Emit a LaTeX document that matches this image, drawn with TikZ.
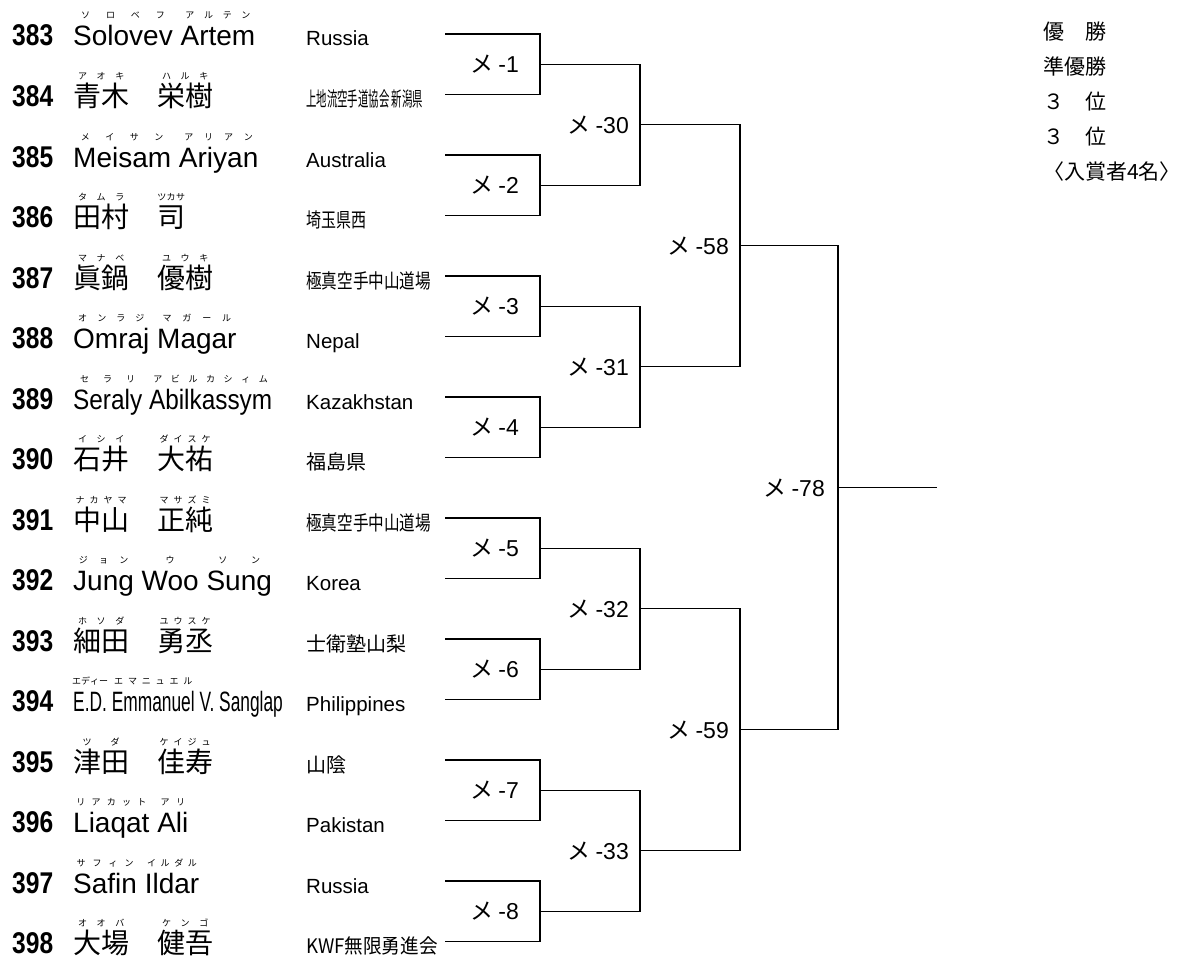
\documentclass[tikz,border=0pt]{standalone}
\usepackage{fontspec}
\setmainfont{Liberation Sans}
\newfontfamily\jp{Noto Sans CJK JP}
\newfontfamily\numfont{Liberation Sans}[FakeStretch=0.82]
\newfontfamily\narrowfont{Liberation Sans}[FakeStretch=0.87]
\newfontfamily\condfont{Liberation Sans}[FakeStretch=0.62]
\usetikzlibrary{positioning}

\newcommand\furi{\jp\fontsize{9}{10}\selectfont}
\newcommand\jc{\jp\fontsize{20}{22}\selectfont}
\newcommand\me{{\jp メ}\kern5pt}
\makeatletter
% ruby: kana spread over the word
\newcommand\rb[2]{\setbox0\hbox{#1}%
  \hbox{\rlap{\raisebox{27pt}{\hbox to \wd0{\furi\hss\rb@a#2\@nil\hss}}}\box0}}
\def\rb@a#1#2\@nil{#1\ifx\relax#2\relax\else\hfil\hfil\rb@a#2\@nil\fi}
\makeatother

\begin{document}
\begin{tikzpicture}[x=1pt, y=-1pt,
	pnum/.style = {anchor = base west, inner sep = 0pt, font = \numfont\bfseries\fontsize{30}{32}\selectfont},
	pname/.style = {anchor = base west, inner sep = 0pt, font = \fontsize{28}{30}\selectfont},
	pclub/.style = {anchor = base west, inner sep = 0pt, font = \fontsize{20.5}{22}\selectfont},
	mlabel/.style = {inner sep = 0pt, font = \fontsize{23}{25}\selectfont},
	bline/.style = {line width = 1.4pt}]
	
	\useasboundingbox (0,0) rectangle (1197,958);
	
	% players
	\node[pnum] (n383) at (12,46) {383};
	\node[pname] (p383) at (73,46) {\rb{Solovev}{ソロベフ} \rb{Artem}{アルテン}};
	\node[pclub] (c383) at (306,46) {Russia};
	\coordinate (e383) at (445,34);
	
	\node[pnum] (n384) at (12,106.5) {384};
	\node[pname] (p384) at (73,106.5) {\jp\makebox[84pt][l]{\rb{青木}{アオキ}}\rb{栄樹}{ハルキ}};
	\node[pclub] (c384) at (306,106.5) {\jc\scalebox{0.52}[1]{上地流空手道協会 新潟県}};
	\coordinate (e384) at (445,94.5);
	
	\node[pnum] (n385) at (12,167) {385};
	\node[pname] (p385) at (73,167) {\rb{Meisam}{メイサン} \rb{Ariyan}{アリアン}};
	\node[pclub] (c385) at (306,167) {Australia};
	\coordinate (e385) at (445,155);
	
	\node[pnum] (n386) at (12,227.5) {386};
	\node[pname] (p386) at (73,227.5) {\jp\makebox[84pt][l]{\rb{田村}{タムラ}}\rb{司}{ツカサ}};
	\node[pclub] (c386) at (306,227.5) {\jc\scalebox{0.75}[1]{埼玉県西}};
	\coordinate (e386) at (445,215.5);
	
	\node[pnum] (n387) at (12,288) {387};
	\node[pname] (p387) at (73,288) {\jp\makebox[84pt][l]{\rb{眞鍋}{マナベ}}\rb{優樹}{ユウキ}};
	\node[pclub] (c387) at (306,288) {\jc\scalebox{0.78}[1]{極真空手中山道場}};
	\coordinate (e387) at (445,276);
	
	\node[pnum] (n388) at (12,348.5) {388};
	\node[pname] (p388) at (73,348.5) {\rb{Omraj}{オンラジ} \rb{Magar}{マガール}};
	\node[pclub] (c388) at (306,348.5) {Nepal};
	\coordinate (e388) at (445,336.5);
	
	\node[pnum] (n389) at (12,409) {389};
	\node[pname] (p389) at (73,409) {\narrowfont\rb{Seraly}{セラリ} \rb{Abilkassym}{アビルカシィム}};
	\node[pclub] (c389) at (306,409) {Kazakhstan};
	\coordinate (e389) at (445,397);
	
	\node[pnum] (n390) at (12,469.5) {390};
	\node[pname] (p390) at (73,469.5) {\jp\makebox[84pt][l]{\rb{石井}{イシイ}}\rb{大祐}{ダイスケ}};
	\node[pclub] (c390) at (306,469.5) {\jc 福島県};
	\coordinate (e390) at (445,457.5);
	
	\node[pnum] (n391) at (12,530) {391};
	\node[pname] (p391) at (73,530) {\jp\makebox[84pt][l]{\rb{中山}{ナカヤマ}}\rb{正純}{マサズミ}};
	\node[pclub] (c391) at (306,530) {\jc\scalebox{0.78}[1]{極真空手中山道場}};
	\coordinate (e391) at (445,518);
	
	\node[pnum] (n392) at (12,590.5) {392};
	\node[pname] (p392) at (73,590.5) {\rb{Jung}{ジョン} \rb{Woo}{ウ} \rb{Sung}{ソン}};
	\node[pclub] (c392) at (306,590.5) {Korea};
	\coordinate (e392) at (445,578.5);
	
	\node[pnum] (n393) at (12,651) {393};
	\node[pname] (p393) at (73,651) {\jp\makebox[84pt][l]{\rb{細田}{ホソダ}}\rb{勇丞}{ユウスケ}};
	\node[pclub] (c393) at (306,651) {\jc 士衛塾山梨};
	\coordinate (e393) at (445,639);
	
	\node[pnum] (n394) at (12,711.5) {394};
	\node[pname] (p394) at (73,711.5) {\condfont\rb{E.D.}{エディー} \rb{Emmanuel}{エマニュエル} V. Sanglap};
	\node[pclub] (c394) at (306,711.5) {Philippines};
	\coordinate (e394) at (445,699.5);
	
	\node[pnum] (n395) at (12,772) {395};
	\node[pname] (p395) at (73,772) {\jp\makebox[84pt][l]{\rb{津田}{ツダ}}\rb{佳寿}{ケイジュ}};
	\node[pclub] (c395) at (306,772) {\jc 山陰};
	\coordinate (e395) at (445,760);
	
	\node[pnum] (n396) at (12,832.5) {396};
	\node[pname] (p396) at (73,832.5) {\rb{Liaqat}{リアカット} \rb{Ali}{アリ}};
	\node[pclub] (c396) at (306,832.5) {Pakistan};
	\coordinate (e396) at (445,820.5);
	
	\node[pnum] (n397) at (12,893) {397};
	\node[pname] (p397) at (73,893) {\rb{Safin}{サフィン} \rb{Ildar}{イルダル}};
	\node[pclub] (c397) at (306,893) {Russia};
	\coordinate (e397) at (445,881);
	
	\node[pnum] (n398) at (12,953.5) {398};
	\node[pname] (p398) at (73,953.5) {\jp\makebox[84pt][l]{\rb{大場}{オオバ}}\rb{健吾}{ケンゴ}};
	\node[pclub] (c398) at (306,953.5) {\jc\scalebox{0.93}[1]{KWF無限勇進会}};
	\coordinate (e398) at (445,941.5);
	
	% matches
	\coordinate (m1) at (540,64.25);
	\coordinate (m2) at (540,185.25);
	\coordinate (m3) at (540,306.25);
	\coordinate (m4) at (540,427.25);
	\coordinate (m5) at (540,548.25);
	\coordinate (m6) at (540,669.25);
	\coordinate (m7) at (540,790.25);
	\coordinate (m8) at (540,911.25);
	\coordinate (m30) at (640,124.75);
	\coordinate (m31) at (640,366.75);
	\coordinate (m32) at (640,608.75);
	\coordinate (m33) at (640,850.75);
	\coordinate (m58) at (740,245.75);
	\coordinate (m59) at (740,729.75);
	\coordinate (m78) at (838,487.75);
	\coordinate (win) at (937,487.75);
	
	\draw[bline] (e383) -| (m1) (e384) -| (m1);
	\draw[bline] (e385) -| (m2) (e386) -| (m2);
	\draw[bline] (e387) -| (m3) (e388) -| (m3);
	\draw[bline] (e389) -| (m4) (e390) -| (m4);
	\draw[bline] (e391) -| (m5) (e392) -| (m5);
	\draw[bline] (e393) -| (m6) (e394) -| (m6);
	\draw[bline] (e395) -| (m7) (e396) -| (m7);
	\draw[bline] (e397) -| (m8) (e398) -| (m8);
	
	\draw[bline] (m1) -| (m30) (m2) -| (m30);
	\draw[bline] (m3) -| (m31) (m4) -| (m31);
	\draw[bline] (m5) -| (m32) (m6) -| (m32);
	\draw[bline] (m7) -| (m33) (m8) -| (m33);
	
	\draw[bline] (m30) -| (m58) (m31) -| (m58);
	\draw[bline] (m32) -| (m59) (m33) -| (m59);
	
	\draw[bline] (m58) -| (m78) (m59) -| (m78);
	\draw[bline] (m78) -- (win);
	
	\node[mlabel, left = 21pt of m1] (l1) {\me-1};
	\node[mlabel, left = 21pt of m2] (l2) {\me-2};
	\node[mlabel, left = 21pt of m3] (l3) {\me-3};
	\node[mlabel, left = 21pt of m4] (l4) {\me-4};
	\node[mlabel, left = 21pt of m5] (l5) {\me-5};
	\node[mlabel, left = 21pt of m6] (l6) {\me-6};
	\node[mlabel, left = 21pt of m7] (l7) {\me-7};
	\node[mlabel, left = 21pt of m8] (l8) {\me-8};
	\node[mlabel, left = 11pt of m30] (l30) {\me-30};
	\node[mlabel, left = 11pt of m31] (l31) {\me-31};
	\node[mlabel, left = 11pt of m32] (l32) {\me-32};
	\node[mlabel, left = 11pt of m33] (l33) {\me-33};
	\node[mlabel, left = 11pt of m58] (l58) {\me-58};
	\node[mlabel, left = 11pt of m59] (l59) {\me-59};
	\node[mlabel, left = 13pt of m78] (l78) {\me-78};
	
	% ranking
	\node[anchor = north west, inner sep = 0pt, align = left, font = \jp\fontsize{21}{35}\selectfont] (rank) at (1043,22) {優　勝\\準優勝\\３　位\\３　位\\〈入賞者4名〉};
\end{tikzpicture}
\end{document}
